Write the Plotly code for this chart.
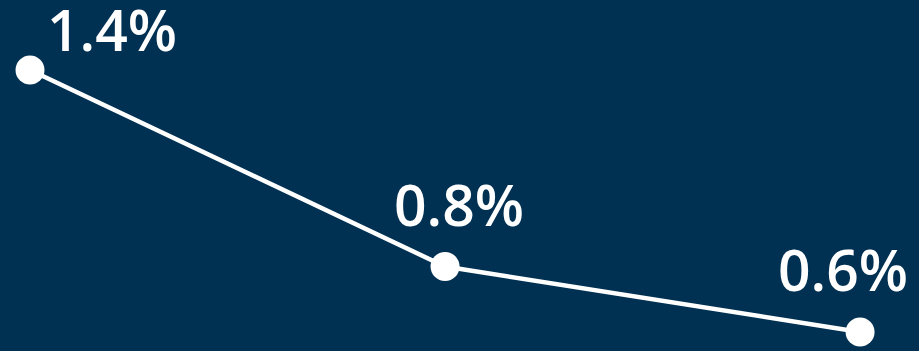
import plotly.graph_objects as go

categories = ["A", "B", "C"]
values = [1.4, 0.8, 0.6]
labels = [f"{v:.1f}%" for v in values]
label_xshift = [82, 14, -17]
label_yshift = [41, 63, 63]

fig = go.Figure()
fig.add_trace(go.Scatter(
    x=list(range(len(categories))),
    y=values,
    mode="lines+markers",
    line=dict(color="white", width=4.5),
    marker=dict(color="white", size=29),
    hoverinfo="skip",
    showlegend=False,
))

for i, (v, t) in enumerate(zip(values, labels)):
    fig.add_annotation(
        x=i, y=v, text=t, showarrow=False,
        xanchor="center", yanchor="middle",
        xshift=label_xshift[i], yshift=label_yshift[i],
        font=dict(family="Open Sans", size=57, color="white", weight=600),
    )

fig.update_layout(
    width=919, height=351,
    margin=dict(l=0, r=0, t=0, b=0),
    paper_bgcolor="#003052",
    plot_bgcolor="#003052",
    xaxis=dict(range=[-0.0723, 2.142], visible=False, fixedrange=True),
    yaxis=dict(range=[0.542, 1.6137], visible=False, fixedrange=True),
)

fig.write_html("out.html", config={"displayModeBar": False})
